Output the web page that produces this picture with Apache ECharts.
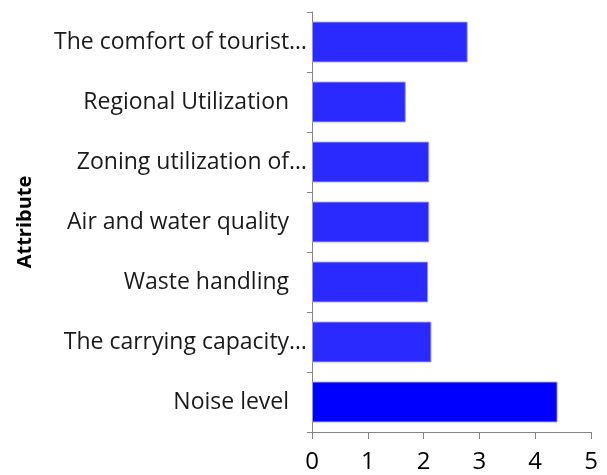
<!DOCTYPE html>
<html>
<head>
<meta charset="utf-8">
<script src="https://cdn.jsdelivr.net/npm/echarts@6/dist/echarts.min.js"></script>
<style>
  html, body { margin: 0; padding: 0; background: #fff; }
  #chart { width: 607px; height: 475px; }
</style>
</head>
<body>
<div id="chart"></div>
<script>
// categories, bottom to top (category axis starts from the bottom)
var categories = [
  'Noise level   ',
  'The carrying capacity…',
  'Waste handling   ',
  'Air and water quality   ',
  'Zoning utilization of…',
  'Regional Utilization   ',
  'The comfort of tourist…'
];
var values = [4.4, 2.14, 2.08, 2.1, 2.1, 1.68, 2.79];
var barColors = ['#0000ff', '#2a2aff', '#2a2aff', '#2a2aff', '#2a2aff', '#2a2aff', '#2a2aff'];
var xTicks = [0, 1, 2, 3, 4, 5];

var chart = echarts.init(document.getElementById('chart'));

var option = {
  backgroundColor: '#fff',
  animation: false,
  grid: { left: 312, right: 16, top: 12, bottom: 43 },
  xAxis: {
    type: 'value',
    min: xTicks[0],
    max: xTicks[xTicks.length - 1],
    interval: 1,
    splitLine: { show: false },
    axisLine: { show: true, lineStyle: { color: '#868686', width: 1 } },
    axisTick: { show: true, length: 7, lineStyle: { color: '#868686' } },
    axisLabel: { fontFamily: 'Open Sans', fontSize: 24, color: '#000', margin: 18 }
  },
  yAxis: {
    type: 'category',
    data: categories,
    name: 'Attribute',
    nameLocation: 'middle',
    nameRotate: 90,
    nameGap: 277,
    nameTextStyle: { fontFamily: 'Open Sans', fontWeight: 'bold', fontSize: 20, color: '#000' },
    axisLine: { show: true, lineStyle: { color: '#868686', width: 1 } },
    axisTick: { show: true, length: 5, lineStyle: { color: '#868686' } },
    axisLabel: { fontFamily: 'Open Sans', fontSize: 23, color: '#1a1a1a', margin: 5 }
  },
  series: [{
    type: 'bar',
    barCategoryGap: '32%',
    data: values.map(function (v, i) {
      return { value: v, itemStyle: { color: barColors[i] } };
    }),
    itemStyle: { borderColor: 'rgba(150,150,255,0.9)', borderWidth: 1 }
  }]
};

chart.setOption(option);
</script>
</body>
</html>
